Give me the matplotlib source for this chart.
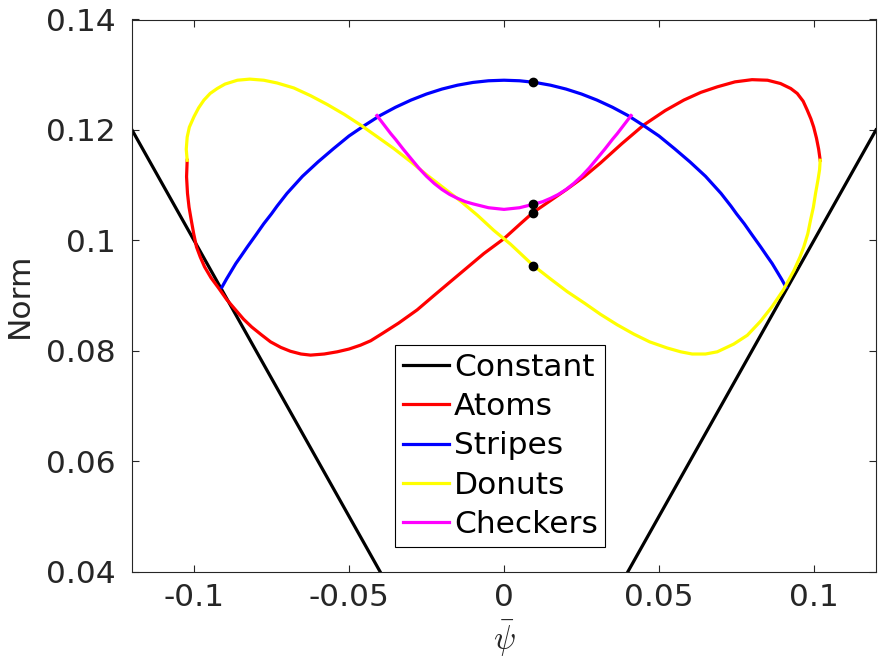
import matplotlib
matplotlib.use("Agg")
import matplotlib.pyplot as plt

# ---- data ----
constant_x = [-0.12, 0.0, 0.12]
constant_y = [0.12, 0.0, 0.12]

atoms_x = [-0.1022, -0.1024, -0.1021, -0.1016, -0.1009, -0.1001, -0.0992, -0.0980,
           -0.0966, -0.0945, -0.0920, -0.0895, -0.0866, -0.0840, -0.0814, -0.0783,
           -0.0753, -0.0720, -0.0689, -0.0655, -0.0624, -0.0580, -0.0538, -0.0500,
           -0.0463, -0.0430, -0.0393, -0.0340, -0.0280, -0.0230, -0.0173, -0.0120,
           -0.0065, 0.0000, 0.0053, 0.0093, 0.0150, 0.0204, 0.0260, 0.0311,
           0.0380, 0.0451, 0.0520, 0.0580, 0.0635, 0.0688, 0.0745, 0.0800,
           0.0850, 0.0892, 0.0925, 0.0946, 0.0965, 0.0978, 0.0990, 0.0999,
           0.1008, 0.1015, 0.1020]
atoms_y = [0.1145, 0.1115, 0.1085, 0.1060, 0.1037, 0.1012, 0.0988, 0.0970,
           0.0952, 0.0932, 0.0913, 0.0893, 0.0874, 0.0857, 0.0843, 0.0829,
           0.0816, 0.0806, 0.0799, 0.0794, 0.0792, 0.0794, 0.0798, 0.0803,
           0.0810, 0.0818, 0.0831, 0.0850, 0.0874, 0.0898, 0.0925, 0.0950,
           0.0976, 0.1003, 0.1030, 0.1050, 0.1072, 0.1093, 0.1116, 0.1140,
           0.1175, 0.1209, 0.1235, 0.1254, 0.1268, 0.1278, 0.1287, 0.1291,
           0.1290, 0.1284, 0.1275, 0.1266, 0.1252, 0.1236, 0.1220, 0.1205,
           0.1185, 0.1165, 0.1145]

stripes_x = [-0.0910, -0.0895, -0.0880, -0.0865, -0.0850, -0.0828, -0.0800, -0.0775,
             -0.0750, -0.0732, -0.0700, -0.0650, -0.0600, -0.0550, -0.0500, -0.0450,
             -0.0400, -0.0350, -0.0300, -0.0250, -0.0200, -0.0150, -0.0100, -0.0050,
             0.0000, 0.0050, 0.0100, 0.0150, 0.0200, 0.0250, 0.0300, 0.0350,
             0.0400, 0.0450, 0.0500, 0.0550, 0.0600, 0.0650, 0.0700, 0.0732,
             0.0750, 0.0775, 0.0800, 0.0828, 0.0850, 0.0865, 0.0880, 0.0895, 0.0910]
stripes_y = [0.0915, 0.0930, 0.0944, 0.0958, 0.0970, 0.0988, 0.1010, 0.1030,
             0.1048, 0.1062, 0.1085, 0.1116, 0.1142, 0.1166, 0.1189, 0.1208,
             0.1226, 0.1241, 0.1254, 0.1265, 0.1274, 0.1281, 0.1286, 0.1289,
             0.1290, 0.1289, 0.1286, 0.1281, 0.1274, 0.1265, 0.1254, 0.1241,
             0.1226, 0.1208, 0.1189, 0.1166, 0.1142, 0.1116, 0.1085, 0.1062,
             0.1048, 0.1030, 0.1010, 0.0988, 0.0970, 0.0958, 0.0944, 0.0930, 0.0915]

donuts_x = [-0.1022, -0.1025, -0.1022, -0.1015, -0.1000, -0.0985, -0.0968, -0.0948,
            -0.0925, -0.0900, -0.0860, -0.0820, -0.0775, -0.0732, -0.0678, -0.0624,
            -0.0570, -0.0515, -0.0463, -0.0410, -0.0355, -0.0300, -0.0248, -0.0195,
            -0.0140, -0.0085, -0.0033, 0.0021, 0.0093, 0.0150, 0.0204, 0.0260,
            0.0311, 0.0365, 0.0419, 0.0470, 0.0526, 0.0570, 0.0607, 0.0650,
            0.0688, 0.0741, 0.0785, 0.0827, 0.0865, 0.0901, 0.0935, 0.0955,
            0.0967, 0.0980, 0.0989, 0.0998, 0.1005, 0.1013, 0.1018, 0.1020]
donuts_y = [0.1145, 0.1165, 0.1187, 0.1205, 0.1224, 0.1240, 0.1254, 0.1266,
            0.1275, 0.1283, 0.1290, 0.1292, 0.1290, 0.1285, 0.1276, 0.1262,
            0.1246, 0.1228, 0.1209, 0.1188, 0.1166, 0.1142, 0.1118, 0.1095,
            0.1071, 0.1045, 0.1018, 0.0993, 0.0955, 0.0930, 0.0907, 0.0886,
            0.0866, 0.0847, 0.0830, 0.0816, 0.0805, 0.0798, 0.0794, 0.0794,
            0.0798, 0.0812, 0.0828, 0.0853, 0.0880, 0.0910, 0.0945, 0.0970,
            0.0988, 0.1012, 0.1037, 0.1060, 0.1085, 0.1110, 0.1128, 0.1145]

checkers_x = [-0.0410, -0.0395, -0.0380, -0.0365, -0.0350, -0.0325, -0.0300, -0.0275,
              -0.0250, -0.0225, -0.0200, -0.0175, -0.0150, -0.0125, -0.0100, -0.0050,
              0.0000, 0.0050, 0.0100, 0.0125, 0.0150, 0.0175, 0.0200, 0.0225,
              0.0250, 0.0275, 0.0300, 0.0325, 0.0350, 0.0365, 0.0380, 0.0395, 0.0410]
checkers_y = [0.1226, 0.1215, 0.1204, 0.1193, 0.1183, 0.1165, 0.1148, 0.1131,
              0.1116, 0.1103, 0.1092, 0.1083, 0.1076, 0.1070, 0.1066, 0.1059,
              0.1056, 0.1059, 0.1066, 0.1070, 0.1076, 0.1083, 0.1092, 0.1103,
              0.1116, 0.1131, 0.1148, 0.1165, 0.1183, 0.1193, 0.1204, 0.1215, 0.1226]

dots_x = [0.0093, 0.0093, 0.0093, 0.0093]
dots_y = [0.1286, 0.1066, 0.1050, 0.0954]

xticks = [-0.1, -0.05, 0, 0.05, 0.1]
xtick_labels = ["-0.1", "-0.05", "0", "0.05", "0.1"]
yticks = [0.04, 0.06, 0.08, 0.1, 0.12, 0.14]
ytick_labels = ["0.04", "0.06", "0.08", "0.1", "0.12", "0.14"]

# ---- drawing ----
plt.rcParams['font.family'] = ['DejaVu Sans']
plt.rcParams['mathtext.fontset'] = 'cm'
FS = 22.5
AX_COL = '#262626'

fig = plt.figure(figsize=(8.81, 6.62), dpi=100)
ax = fig.add_axes([132/881, 1 - 571.5/662, 744/881, 552/662])

lw = 2.3
ax.plot(constant_x, constant_y, color='black', lw=lw, label='Constant')
ax.plot(atoms_x, atoms_y, color='#ff0000', lw=lw, label='Atoms')
ax.plot(stripes_x, stripes_y, color='#0000ff', lw=lw, label='Stripes')
ax.plot(donuts_x, donuts_y, color='#ffff00', lw=lw, label='Donuts')
ax.plot(checkers_x, checkers_y, color='#ff00ff', lw=lw, label='Checkers')
ax.plot(dots_x, dots_y, 'o', color='black', ms=6, zorder=5)

ax.set_xlim(-0.12, 0.12)
ax.set_ylim(0.04, 0.14)
ax.set_xticks(xticks)
ax.set_xticklabels(xtick_labels)
ax.set_yticks(yticks)
ax.set_yticklabels(ytick_labels)

ax.tick_params(direction='in', length=5, width=0.8, colors=AX_COL,
               labelsize=FS, top=True, right=True)
ax.tick_params(axis='x', pad=8)
ax.tick_params(axis='y', pad=12)
for s in ax.spines.values():
    s.set_color(AX_COL)
    s.set_linewidth(0.8)

ax.set_xlabel(r'$\bar{\psi}$', fontsize=FS + 1, color=AX_COL)
ax.xaxis.set_label_coords(0.5, -0.085)
ax.xaxis.label.set_va('top')
ax.set_ylabel('Norm', fontsize=FS, color=AX_COL)
ax.yaxis.set_label_coords(-0.132, 0.5)

leg = ax.legend(handles=ax.get_lines()[:5], loc='upper left',
                bbox_to_anchor=(0.3535, 0.4103), borderaxespad=0,
                fontsize=FS, frameon=True, fancybox=False, framealpha=1,
                edgecolor='black', handlelength=1.47, handletextpad=0.16,
                borderpad=0.25, labelspacing=0.33)
leg.get_frame().set_linewidth(0.8)

fig.savefig('out.png', dpi=100)
